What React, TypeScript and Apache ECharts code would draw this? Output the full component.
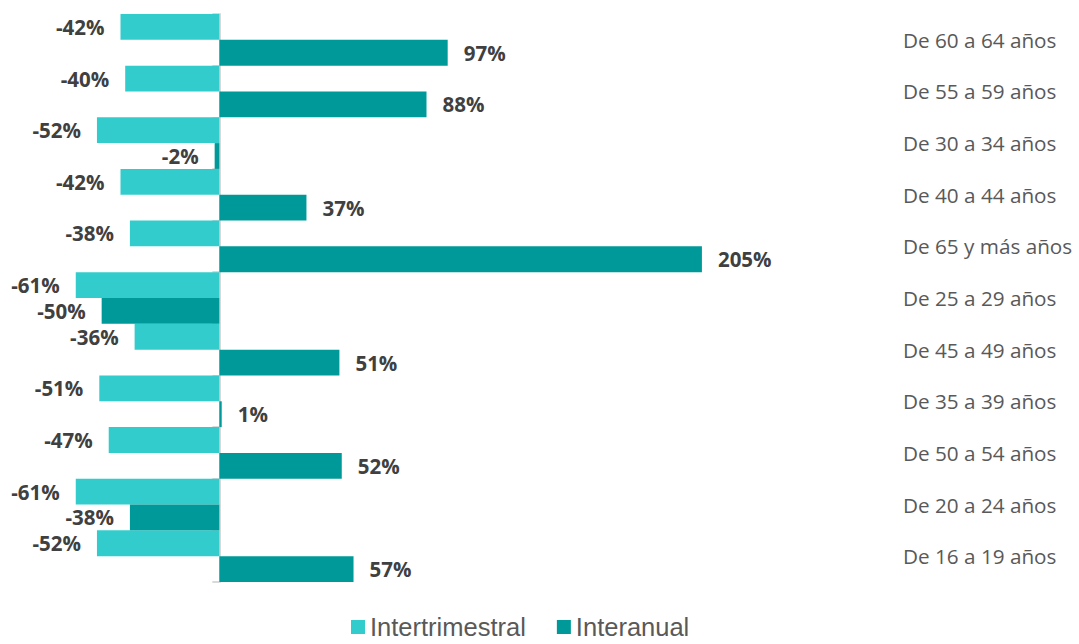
import React, { useEffect, useRef } from "react";
import * as echarts from "echarts";

const categories = [
  "De 60 a 64 años",
  "De 55 a 59 años",
  "De 30 a 34 años",
  "De 40 a 44 años",
  "De 65 y más años",
  "De 25 a 29 años",
  "De 45 a 49 años",
  "De 35 a 39 años",
  "De 50 a 54 años",
  "De 20 a 24 años",
  "De 16 a 19 años",
];
const intertrimestral = [-42, -40, -52, -42, -38, -61, -36, -51, -47, -61, -52];
const interanual = [97, 88, -2, 37, 205, -50, 51, 1, 52, -38, 57];
const seriesNames = ["Intertrimestral", "Interanual"];

const LIGHT = "#33CCCC";
const DARK = "#009999";

export default function App() {
  const ref = useRef<HTMLDivElement>(null);
  useEffect(() => {
    if (!ref.current) return;
    const chart = echarts.init(ref.current, null, { renderer: "svg" });
    const labelStyle = {
      show: true,
      formatter: "{c}%",
      fontFamily: "Open Sans",
      fontWeight: "bold",
      fontSize: 20.5,
      color: "#404040",
      distance: 16,
    };
    chart.setOption({
      animation: false,
      grid: { left: 7.5, right: 177, top: 14, bottom: 62, containLabel: false },
      legend: {
        data: seriesNames,
        top: 614,
        left: 351,
        padding: 0,
        itemWidth: 14,
        itemHeight: 14,
        itemGap: 31,
        icon: "rect",
        textStyle: {
          fontFamily: "Liberation Sans",
          fontSize: 25.5,
          color: "#595959",
        },
      },
      xAxis: {
        type: "value",
        min: -90,
        max: 290,
        show: false,
        splitLine: { show: false },
      },
      yAxis: [
        {
          type: "category",
          data: categories,
          inverse: true,
          position: "left",
          axisLine: { show: true, onZero: true, lineStyle: { color: "#d9d9d9", width: 2 } },
          axisTick: { show: true, length: 7, lineStyle: { color: "#d9d9d9", width: 2 } },
          axisLabel: { show: false },
        },
        {
          type: "category",
          data: categories,
          inverse: true,
          position: "right",
          axisLine: { show: false, onZero: false },
          axisTick: { show: false },
          axisLabel: {
            show: true,
            align: "left",
            margin: 1,
            fontFamily: "Open Sans",
            fontSize: 20.7,
            color: "#595959",
          },
        },
      ],
      series: [
        {
          name: seriesNames[0],
          type: "bar",
          yAxisIndex: 0,
          barGap: "0%",
          barCategoryGap: "0%",
          itemStyle: { color: LIGHT },
          label: { ...labelStyle, position: "left" },
          data: intertrimestral,
        },
        {
          name: seriesNames[1],
          type: "bar",
          yAxisIndex: 0,
          barGap: "0%",
          barCategoryGap: "0%",
          itemStyle: { color: DARK },
          label: { ...labelStyle, position: "right" },
          data: interanual.map((v) => ({
            value: v,
            label: { position: v < 0 ? "left" : "right" },
          })),
        },
      ],
    });
    return () => chart.dispose();
  }, []);
  return (
    <div
      ref={ref}
      style={{ position: "absolute", left: 0, top: 0, width: 1079, height: 644, background: "#fff" }}
    />
  );
}
